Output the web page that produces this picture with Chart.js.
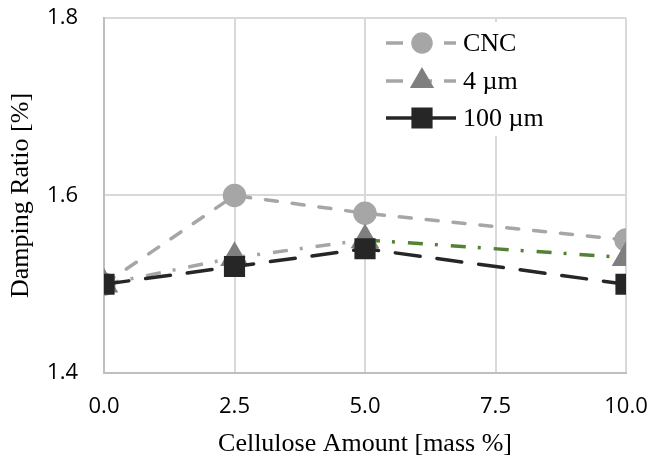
<!DOCTYPE html>
<html>
<head>
<meta charset="utf-8">
<script src="https://cdn.jsdelivr.net/npm/chart.js@4"></script>
<style>
  html, body { margin: 0; padding: 0; background: #fff; }
  #wrap { width: 649px; height: 464px; }
</style>
</head>
<body>
<div id="wrap"><canvas id="dampChart" width="649" height="464"></canvas></div>
<script>
// data
const amounts = [0, 2.5, 5, 10];
const cncVals = [1.5, 1.6, 1.58, 1.55];
const um4Vals = [1.5, 1.53, 1.55, 1.53];
const um100Vals = [1.5, 1.52, 1.54, 1.5];
const xTicks = [0, 2.5, 5, 7.5, 10];
const yTicks = [1.4, 1.6, 1.8];
const seriesNames = ["CNC", "4 \u00b5m", "100 \u00b5m"];

const toXY = (vals) => vals.map((v, i) => ({ x: amounts[i], y: v }));

// small legend drawn inside the plot, top right
const legendPlugin = {
  id: "boxLegend",
  afterDatasetsDraw(chart) {
    const c = chart.ctx;
    const rows = [
      { ds: chart.data.datasets[0], dash: [17, 12], y: 43 },
      { ds: chart.data.datasets[1], dash: [17, 12], y: 81 },
      { ds: chart.data.datasets[2], dash: [], y: 118 },
    ];
    c.save();
    c.fillStyle = "#fff";
    c.fillRect(380, 22, 170, 114);
    rows.forEach((r) => {
      c.setLineDash(r.dash);
      c.strokeStyle = r.ds.legendLine;
      c.lineWidth = 3.5;
      c.beginPath();
      c.moveTo(386, r.y);
      c.lineTo(456, r.y);
      c.stroke();
      c.setLineDash([]);
      c.fillStyle = r.ds.pointBackgroundColor;
      c.strokeStyle = r.ds.pointBackgroundColor;
      Chart.helpers.drawPoint(c, {
        pointStyle: r.ds.pointStyle,
        radius: r.ds.legendRadius,
        borderWidth: 1,
      }, 422, r.y);
      c.fillStyle = "#000";
      c.font = "26px 'Liberation Serif'";
      c.textBaseline = "middle";
      c.fillText(r.ds.label, 463, r.y + 1);
    });
    c.restore();
  },
};

const ctx = document.getElementById("dampChart").getContext("2d");
const dampChart = new Chart(ctx, {
  type: "line",
  data: {
    datasets: [
      {
        label: seriesNames[0],
        data: toXY(cncVals),
        borderColor: "#a6a6a6",
        borderWidth: 3.5,
        borderDash: [12, 15],
        borderCapStyle: "round",
        pointStyle: "circle",
        pointRadius: 10,
        pointBackgroundColor: "#a6a6a6",
        pointBorderColor: "#a6a6a6",
        legendLine: "#a6a6a6",
        legendRadius: 9,
        order: 3,
      },
      {
        label: seriesNames[1],
        data: toXY(um4Vals),
        borderColor: "#a6a6a6",
        borderWidth: 3.5,
        borderDash: [15, 12, 3, 13],
        segment: {
          borderColor: (s) => (s.p0.parsed.x >= 5 ? "#548235" : undefined),
        },
        pointStyle: "triangle",
        pointRadius: 13,
        pointBackgroundColor: "#7f7f7f",
        pointBorderColor: "#7f7f7f",
        legendLine: "#a6a6a6",
        legendRadius: 10.5,
        order: 2,
      },
      {
        label: seriesNames[2],
        data: toXY(um100Vals),
        borderColor: "#262626",
        borderWidth: 3.5,
        borderDash: [25, 17],
        borderCapStyle: "round",
        pointStyle: "rect",
        pointRadius: 12.5,
        pointBackgroundColor: "#262626",
        pointBorderColor: "#262626",
        legendLine: "#262626",
        legendRadius: 12.5,
        order: 1,
      },
    ],
  },
  options: {
    responsive: false,
    animation: false,
    layout: { autoPadding: false, padding: { top: 18, right: 23, left: 0, bottom: 0 } },
    plugins: {
      legend: { display: false },
      tooltip: { enabled: false },
    },
    scales: {
      x: {
        type: "linear",
        min: 0,
        max: 10,
        afterBuildTicks: (s) => { s.ticks = xTicks.map((v) => ({ value: v })); },
        afterFit: (s) => {
          s.height = 91;
          s.paddingLeft = 0;
          s.paddingRight = 0;
        },
        grid: { color: "#d9d9d9", lineWidth: 2, drawTicks: false },
        border: { color: "#bfbfbf", width: 2 },
        ticks: {
          padding: 21,
          color: "#000",
          font: { family: "'Open Sans'", size: 22 },
          callback: (v) => v.toFixed(1),
        },
        title: {
          display: true,
          text: "Cellulose Amount [mass %]",
          color: "#000",
          font: { family: "'Liberation Serif'", size: 26 },
          padding: { top: 0, bottom: 4 },
        },
      },
      y: {
        min: 1.4,
        max: 1.8,
        afterBuildTicks: (s) => { s.ticks = yTicks.map((v) => ({ value: v })); },
        afterFit: (s) => {
          s.width = 104;
          s.paddingTop = 0;
          s.paddingBottom = 0;
        },
        grid: { color: "#d9d9d9", lineWidth: 2, drawTicks: false },
        border: { color: "#bfbfbf", width: 2 },
        ticks: {
          padding: 26,
          color: "#000",
          font: { family: "'Open Sans'", size: 22 },
          callback: (v) => v.toFixed(1),
        },
        title: {
          display: true,
          text: "Damping Ratio [%]",
          color: "#000",
          font: { family: "'Liberation Serif'", size: 26 },
          padding: { top: 6, bottom: 0 },
        },
      },
    },
  },
  plugins: [legendPlugin],
});
</script>
</body>
</html>
